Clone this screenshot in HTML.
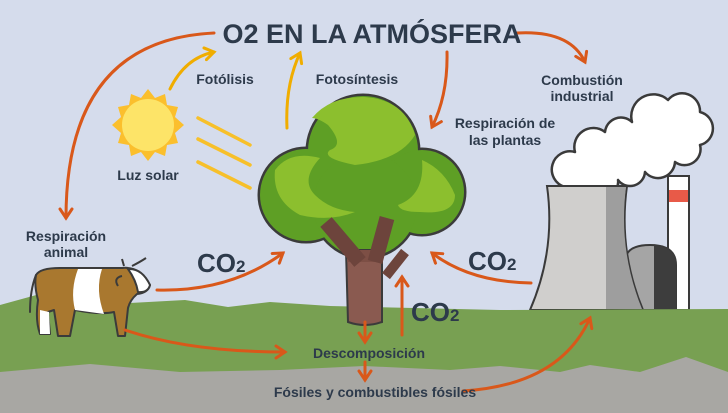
<!DOCTYPE html>
<html><head><meta charset="utf-8"><style>
html,body{margin:0;padding:0;background:#d5dcec;}
svg{display:block}
text{font-family:"Liberation Sans",sans-serif;font-weight:bold;fill:#2d3a4b}
</style></head><body>
<svg width="728" height="413" viewBox="0 0 728 413" xmlns="http://www.w3.org/2000/svg">
<defs>
<marker id="ao" viewBox="0 0 10 10" refX="7" refY="5" markerWidth="5" markerHeight="5" orient="auto"><path d="M1,1 L7,5 L1,9" fill="none" stroke="#d9581a" stroke-width="2" stroke-linecap="round"/></marker>
<marker id="ay" viewBox="0 0 10 10" refX="7" refY="5" markerWidth="5" markerHeight="5" orient="auto"><path d="M1,1 L7,5 L1,9" fill="none" stroke="#f0ad00" stroke-width="2" stroke-linecap="round"/></marker>
</defs>
<rect width="728" height="413" fill="#d5dcec"/>

<!-- cloud -->
<path d="M565,187 A18,18 0 0 1 575,152 A19,19 0 0 1 605,132 A16,16 0 0 1 632,122 A22,22 0 0 1 668,100 A18,18 0 0 1 700,112 A17,17 0 0 1 700,145 A16,16 0 0 1 675,162 A17,17 0 0 1 645,172 A15,15 0 0 1 618,180 A13,13 0 0 1 595,190 Z" fill="#fff" stroke="#3a3a3a" stroke-width="2.5" stroke-linejoin="round"/>
<!-- factory -->
<rect x="668" y="176" width="21" height="134" fill="#fff" stroke="#3a3a3a" stroke-width="2"/>
<rect x="669" y="190" width="19" height="12" fill="#e85a48"/>
<path d="M625,310 L625,262 Q625,245 650,245 Q676,245 676,265 L676,310 Z" fill="#a5a5a5" stroke="#3a3a3a" stroke-width="2"/>
<path d="M654,245 Q676,248 676,265 L676,310 L654,310 Z" fill="#3d3d3d"/>
<path d="M547,186 L627,186 Q618,250 643,310 L530,310 Q556,250 547,186 Z" fill="#d0cfcd" stroke="#3a3a3a" stroke-width="2"/>
<path d="M606,187 L626,187 Q618,250 642,309 L606,309 Z" fill="#9e9e9e"/>

<!-- ground -->
<path d="M0,305 L40,294 L130,303 L185,300 L228,307 L270,302 L330,306 L500,310 L728,309 L728,413 L0,413 Z" fill="#78a052"/>
<path d="M0,372 L90,364 L180,372 L280,370 L364,366 L450,370 L500,366 L560,372 L590,365 L640,372 L686,357 L728,372 L728,413 L0,413 Z" fill="#a8a7a3"/>

<!-- tree -->
<g fill="#3b3b3b">
<circle cx="363" cy="151" r="57.5"/><circle cx="306" cy="195" r="48.5"/><circle cx="422" cy="192" r="44.5"/><circle cx="365" cy="205" r="54.5"/>
</g>
<g fill="#5e9f25">
<circle cx="363" cy="151" r="55"/><circle cx="306" cy="195" r="46"/><circle cx="422" cy="192" r="42"/><circle cx="365" cy="205" r="52"/>
</g>
<g fill="#8cbf2e">
<path d="M312,118 Q330,96 365,97 Q405,100 415,135 Q400,160 355,165 Q320,158 330,150 Q345,145 328,125 Q318,118 312,118 Z"/>
<path d="M275,170 Q290,150 320,158 Q300,180 315,195 Q330,210 355,212 Q330,222 300,215 Q272,200 275,170 Z"/>
<path d="M422,160 Q445,170 455,195 Q455,215 420,212 Q400,212 398,205 Q425,195 422,160 Z"/>
</g>
<path d="M346,250 L348,322 Q365,328 382,322 L382,250 Z" fill="#8a5a50" stroke="#3b3b3b" stroke-width="2"/>
<path d="M347,250 L381,250 L381,262 L347,262 Z" fill="#7d4f45"/>
<line x1="326" y1="222" x2="360" y2="262" stroke="#6d443c" stroke-width="15"/>
<line x1="387" y1="218" x2="375" y2="262" stroke="#6d443c" stroke-width="15"/>
<line x1="405" y1="252" x2="386" y2="276" stroke="#6d443c" stroke-width="10"/>

<!-- sun -->
<g transform="translate(148,125)">
<polygon fill="#fbbf2d" points="0,-36 7,-27 17,-31 19,-20 30,-18 27,-8 36,0 27,8 30,18 19,20 17,31 7,27 0,36 -7,27 -17,31 -19,20 -30,18 -27,8 -36,0 -27,-8 -30,-18 -19,-20 -17,-31 -7,-27"/>
<circle r="26" fill="#fde468"/>
</g>
<g stroke="#f7c02a" stroke-width="3.5" stroke-linecap="round">
<line x1="198" y1="118" x2="250" y2="145"/><line x1="198" y1="139" x2="250" y2="165"/><line x1="198" y1="162" x2="250" y2="188"/>
</g>

<!-- cow -->
<g stroke="#3b3b3b" stroke-width="2" stroke-linecap="round" stroke-linejoin="round">
<path d="M36,275 Q30,290 30,312" fill="none"/>
<path d="M36,275 Q40,268 60,268 L122,268 Q140,266 150,285 Q148,293 137,294 Q130,300 128,308 L125,336 L118,336 L114,312 Q100,315 75,310 L70,336 L58,336 L54,310 L48,312 L50,334 L40,334 Q35,320 38,300 Q34,285 36,275 Z" fill="#a9782f"/>
</g>
<path d="M78,269 L102,269 Q95,290 104,314 L75,310 Q70,290 78,269 Z" fill="#fff"/>
<path d="M128,269 Q142,268 150,285 Q148,293 138,292 Q136,280 128,269 Z" fill="#fff" stroke="#3b3b3b" stroke-width="2"/>
<path d="M40,310 L49,312 L50,334 L40,334 Z" fill="#fff"/>
<path d="M124,266 L122,259 M132,266 Q140,262 146,258" stroke="#3b3b3b" stroke-width="2" fill="none"/>
<path d="M122,276 Q113,278 118,286" stroke="#3b3b3b" stroke-width="2" fill="none"/>

<!-- arrows -->
<g fill="none" stroke-width="3" stroke-linecap="round">
<path d="M214,33 Q66,40 66,218" stroke="#d9581a" marker-end="url(#ao)"/>
<path d="M170,89 Q185,58 214,52" stroke="#f0ad00" marker-end="url(#ay)"/>
<path d="M287,128 Q285,85 300,53" stroke="#f0ad00" marker-end="url(#ay)"/>
<path d="M447,52 Q448,95 432,127" stroke="#d9581a" marker-end="url(#ao)"/>
<path d="M517,33 Q570,30 585,62" stroke="#d9581a" marker-end="url(#ao)"/>
<path d="M157,290 Q230,292 283,253" stroke="#d9581a" marker-end="url(#ao)"/>
<path d="M531,283 Q470,282 432,253" stroke="#d9581a" marker-end="url(#ao)"/>
<path d="M402,335 L402,277" stroke="#d9581a" marker-end="url(#ao)"/>
<path d="M125,330 Q190,352 285,352" stroke="#d9581a" marker-end="url(#ao)"/>
<path d="M365,322 L365,342" stroke="#d9581a" marker-end="url(#ao)"/>
<path d="M365,362 L365,380" stroke="#d9581a" marker-end="url(#ao)"/>
<path d="M463,391 Q560,385 590,318" stroke="#d9581a" marker-end="url(#ao)"/>
</g>

<!-- labels -->
<text x="372" y="43" font-size="27" text-anchor="middle">O2 EN LA ATMÓSFERA</text>
<text x="225" y="84" font-size="14" text-anchor="middle">Fotólisis</text>
<text x="357" y="84" font-size="14" text-anchor="middle">Fotosíntesis</text>
<text x="148" y="180" font-size="14" text-anchor="middle">Luz solar</text>
<text x="505" y="128" font-size="14" text-anchor="middle">Respiración de</text>
<text x="505" y="145" font-size="14" text-anchor="middle">las plantas</text>
<text x="582" y="85" font-size="14" text-anchor="middle">Combustión</text>
<text x="582" y="101" font-size="14" text-anchor="middle">industrial</text>
<text x="66" y="241" font-size="14" text-anchor="middle">Respiración</text>
<text x="66" y="257" font-size="14" text-anchor="middle">animal</text>
<text x="197" y="272" font-size="26">CO<tspan font-size="17">2</tspan></text>
<text x="468" y="270" font-size="26">CO<tspan font-size="17">2</tspan></text>
<text x="411" y="321" font-size="26">CO<tspan font-size="17">2</tspan></text>
<text x="369" y="358" font-size="14" text-anchor="middle">Descomposición</text>
<text x="375" y="397" font-size="14" text-anchor="middle">Fósiles y combustibles fósiles</text>
</svg>
</body></html>
